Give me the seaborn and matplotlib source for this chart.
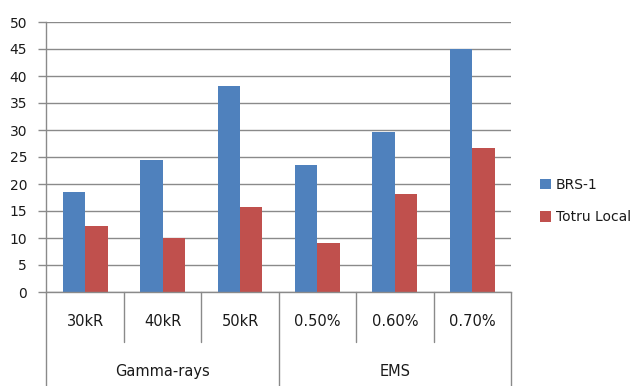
import matplotlib
matplotlib.use("Agg")
import matplotlib.pyplot as plt
import matplotlib.transforms as mtransforms
from matplotlib.patches import Patch
import pandas as pd
import seaborn as sns

# Treatments, grouped by mutagen
treatments = ["30kR", "40kR", "50kR", "0.50%", "0.60%", "0.70%"]
mutagen_groups = ["Gamma-rays", "EMS"]
group_sizes = [3, 3]

# Values per variety
brs1 = [18.5, 24.4, 38.1, 23.5, 29.6, 45.0]
totru_local = [12.3, 10.0, 15.7, 9.0, 18.2, 26.6]
varieties = ["BRS-1", "Totru Local"]

y_ticks = [0, 5, 10, 15, 20, 25, 30, 35, 40, 45, 50]

df = pd.DataFrame({
    "treatment": treatments * 2,
    "value": brs1 + totru_local,
    "variety": [varieties[0]] * len(treatments) + [varieties[1]] * len(treatments),
})

sns.set_theme(style="white")
plt.rcParams["font.family"] = ["DejaVu Sans"]

W, H = 642, 386
fig = plt.figure(figsize=(W / 100, H / 100), dpi=100)
left, right, top, bottom = 46.5, 511, 22, 292
ax = fig.add_axes([left / W, 1 - bottom / H, (right - left) / W, (bottom - top) / H])

palette = {"BRS-1": "#4F81BD", "Totru Local": "#C0504D"}
sns.barplot(data=df, x="treatment", y="value", hue="variety", order=treatments,
            hue_order=varieties, palette=palette, width=0.58, saturation=1,
            linewidth=0, edgecolor="none", ax=ax, legend=False)

grid_c = "#8A8A8A"
txt_c = "#1A1A1A"
ax.set_ylim(0, 50)
ax.set_xlim(-0.5, len(treatments) - 0.5)
ax.set_yticks(y_ticks)
ax.set_yticklabels([str(t) for t in y_ticks], fontsize=10, color=txt_c)
ax.yaxis.grid(True, color=grid_c, linewidth=1)
ax.set_axisbelow(True)
ax.tick_params(axis="y", which="both", left=True, length=6, width=1,
               color=grid_c, pad=8)
ax.tick_params(axis="x", bottom=False, labelbottom=False)
ax.set_xlabel("")
ax.set_ylabel("")
for s in ["top", "right"]:
    ax.spines[s].set_visible(False)
for s in ["left", "bottom"]:
    ax.spines[s].set_color(grid_c)
    ax.spines[s].set_linewidth(1)

# Two-level category axis drawn below the plot
trans = mtransforms.blended_transform_factory(ax.transData, ax.transAxes)
row1_y, row2_y = -0.11, -0.295
inner_bottom, outer_bottom = -0.184, -0.36
for x, lab in zip(ax.get_xticks(), treatments):
    ax.text(x, row1_y, lab, transform=trans, ha="center", va="center",
            fontsize=10.5, color=txt_c)

boundaries = [0]
for n in group_sizes:
    boundaries.append(boundaries[-1] + n)
group_edges = set(boundaries)
for b in range(len(treatments) + 1):
    xb = b - 0.5
    yb = outer_bottom if b in group_edges else inner_bottom
    ax.plot([xb, xb], [0, yb], transform=trans, color=grid_c, linewidth=1,
            clip_on=False)
for g, name in enumerate(mutagen_groups):
    xc = (boundaries[g] + boundaries[g + 1] - 1) / 2
    ax.text(xc, row2_y, name, transform=trans, ha="center", va="center",
            fontsize=10.5, color=txt_c)

# Legend to the right of the plot area
handles = [Patch(facecolor=palette[v], edgecolor="none") for v in varieties]
leg = fig.legend(handles, varieties, loc="center left",
                 bbox_to_anchor=(540 / W, 1 - 201 / H), frameon=False, fontsize=10,
                 handlelength=0.8, handleheight=0.8, handletextpad=0.35,
                 labelspacing=1.3, borderaxespad=0, borderpad=0)
for t in leg.get_texts():
    t.set_color(txt_c)

fig.savefig("out.png", dpi=100)
